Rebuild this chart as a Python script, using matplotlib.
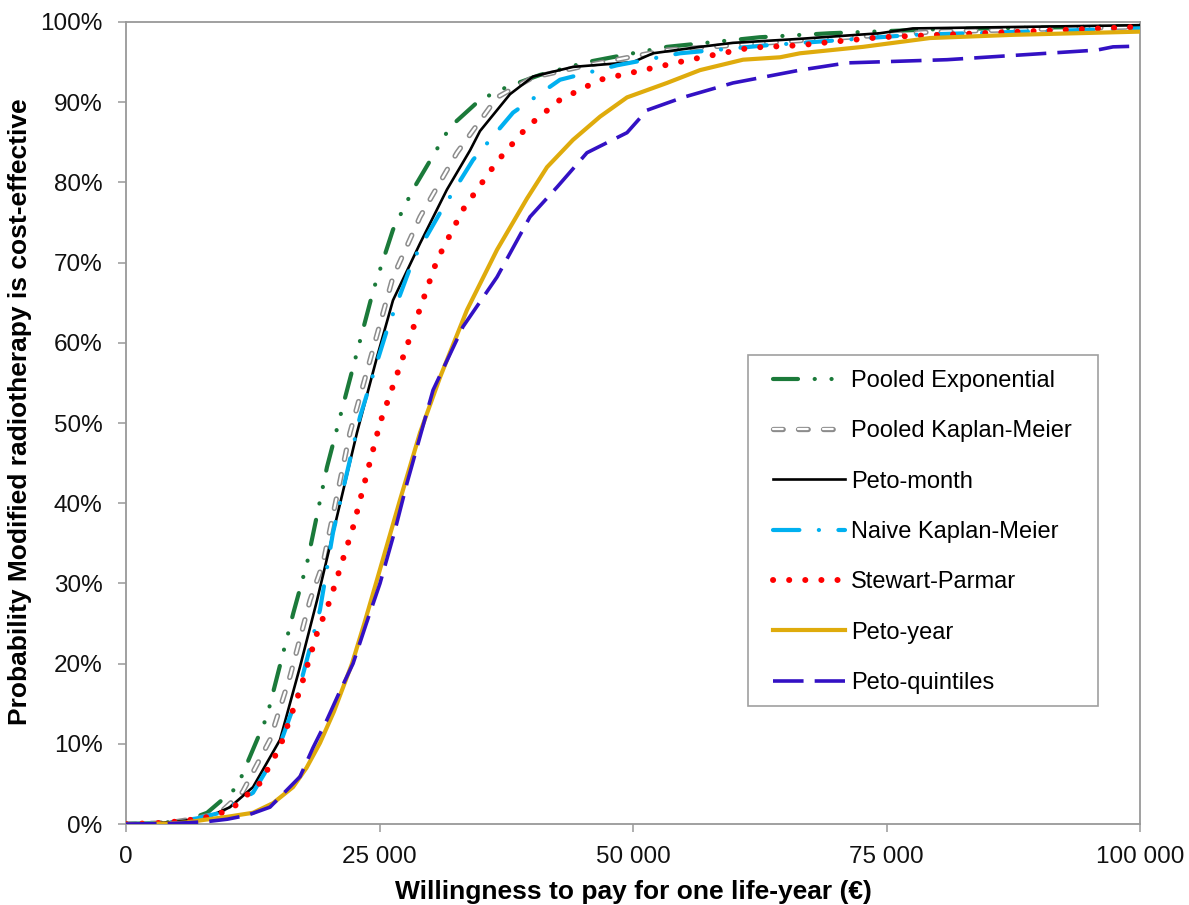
import matplotlib
matplotlib.use("Agg")
import matplotlib.pyplot as plt
from matplotlib.legend_handler import HandlerTuple
from matplotlib.patches import Rectangle
from matplotlib.ticker import FuncFormatter, MultipleLocator

plt.rcParams['font.family'] = ['Liberation Sans', 'DejaVu Sans']
plt.rcParams['lines.scale_dashes'] = False

# willingness to pay (EUR) and probability cost-effective (%) per method
exp_x = [0, 3000, 5000, 6500, 8000, 10950, 13900, 16500, 17850, 19820, 21800, 24400, 26330,
         28300, 31950, 34910, 37570, 40830, 45460, 50000, 53350, 62520, 69430, 80000, 100000]
exp_p = [0, 0.1, 0.3, 0.7, 1.4, 4.6, 13.4, 26.3, 32.5, 44.5, 54.1, 66.6, 74.1,
         79.1, 86.9, 90.3, 91.9, 93.4, 95.0, 96.1, 96.9, 98.1, 98.6, 99.1, 99.5]

pkm_x = [0, 3000, 5000, 7000, 9270, 11500, 14200, 16200, 18150, 19430, 22090, 26330, 29000,
         32640, 36590, 40140, 45460, 53350, 59860, 70000, 80000, 100000]
pkm_p = [0, 0.1, 0.3, 0.7, 1.4, 4.0, 10.5, 18.5, 27.9, 32.5, 48.8, 68.2, 75.7,
         83.7, 90.6, 93.1, 94.6, 96.5, 97.1, 98.0, 98.8, 99.4]

month_x = [0, 3000, 5000, 7000, 8500, 10260, 12525, 15190, 17160, 18840, 20800, 22780, 24750,
           26330, 29000, 31650, 33930, 34910, 37870, 40140, 44080, 50000, 51970, 56610, 59860,
           66470, 74360, 77600, 100000]
month_p = [0, 0.1, 0.3, 0.6, 1.1, 2.1, 4.6, 10.5, 19.6, 27.9, 38.3, 48.8, 58.2,
           65.3, 72.4, 79.1, 84.0, 86.4, 91.0, 93.2, 94.4, 95.0, 96.1, 96.9, 97.4,
           97.9, 98.6, 99.2, 99.6]

nkm_x = [0, 3000, 5000, 7000, 9300, 12525, 14890, 16860, 19130, 20410, 23080, 25740, 28300,
         30970, 34220, 38170, 42800, 48420, 54640, 63210, 67750, 77600, 100000]
nkm_p = [0, 0.1, 0.3, 0.7, 1.4, 3.9, 8.9, 15.8, 26.7, 36.3, 50.8, 61.6, 70.3,
         76.2, 82.8, 88.7, 92.8, 94.6, 96.1, 97.1, 97.5, 98.4, 99.2]

sp_x = [0, 3000, 5000, 7500, 10260, 13220, 15190, 17160, 18840, 20120, 22390, 25050, 28010,
        30670, 33230, 36590, 39550, 42800, 46750, 50990, 55620, 61540, 66470, 69430, 74360,
        84220, 100000]
sp_p = [0, 0.1, 0.3, 0.7, 1.7, 5.1, 9.6, 16.7, 23.8, 27.9, 37.0, 50.0, 60.7,
        70.3, 76.6, 82.6, 86.9, 90.3, 92.8, 94.0, 95.3, 96.8, 97.1, 97.5, 98.1,
        98.6, 99.4]

year_x = [0, 4000, 6000, 7600, 10000, 12525, 14500, 16470, 17800, 19130, 20500, 22290, 23500,
          24650, 27020, 29000, 30970, 33630, 36590, 39550, 41520, 44080, 46750, 49410, 53350,
          56610, 60850, 64500, 66470, 72680, 79290, 87480, 100000]
year_p = [0, 0.05, 0.2, 0.5, 0.9, 1.4, 2.6, 4.6, 7.0, 10.1, 14.0, 20.0, 25.0,
          30.0, 40.4, 48.8, 55.7, 64.1, 71.6, 78.0, 81.9, 85.3, 88.2, 90.6, 92.4,
          94.0, 95.3, 95.6, 96.1, 96.9, 98.0, 98.4, 98.8]

quint_x = [0, 4000, 6000, 8000, 10000, 12000, 14200, 17160, 18440, 19820, 21000, 22390, 23700,
           25050, 26500, 27710, 30280, 33230, 36590, 39840, 42500, 45460, 49410, 51380, 54930,
           59860, 66470, 71100, 80970, 90830, 95760, 97340, 100000]
quint_p = [0, 0.05, 0.15, 0.3, 0.6, 1.1, 2.1, 5.9, 9.5, 13.0, 16.3, 20.0, 25.0,
           30.0, 36.5, 42.5, 54.1, 62.0, 68.2, 75.7, 79.4, 83.7, 86.2, 89.0, 90.6,
           92.4, 94.0, 94.9, 95.3, 96.1, 96.5, 96.9, 97.0]

labels = ['Pooled Exponential', 'Pooled Kaplan-Meier', 'Peto-month', 'Naive Kaplan-Meier',
          'Stewart-Parmar', 'Peto-year', 'Peto-quintiles']

W, H = 1189, 905
fig = plt.figure(figsize=(W / 100, H / 100), dpi=100)
ax = fig.add_axes([126 / W, 81 / H, 1014 / W, 802 / H])

h_exp, = ax.plot(exp_x, exp_p, color='#1b7a3a', lw=3, dashes=(18, 12, 0.1, 12, 0.1, 12),
                 dash_capstyle='round', zorder=3)
# hollow gray dashes: thick gray stroke with a thin white stroke on top
h_pkm_o, = ax.plot(pkm_x, pkm_p, color='#8c8c8c', lw=3.8, dashes=(7, 11),
                   dash_capstyle='round', zorder=4)
h_pkm_i, = ax.plot(pkm_x, pkm_p, color='white', lw=1.6, dashes=(7, 11),
                   dash_capstyle='round', zorder=4.1)
h_month, = ax.plot(month_x, month_p, color='black', lw=1.9, zorder=5)
h_nkm, = ax.plot(nkm_x, nkm_p, color='#00b0f0', lw=3, dashes=(19, 14, 0.1, 14),
                 dash_capstyle='round', zorder=6)
h_sp, = ax.plot(sp_x, sp_p, color='#ff0000', lw=4.3, dashes=(0.1, 11.5),
                dash_capstyle='round', zorder=7)
h_year, = ax.plot(year_x, year_p, color='#dfab0c', lw=3, zorder=8)
h_quint, = ax.plot(quint_x, quint_p, color='#3311c4', lw=2.6, dashes=(22, 8), zorder=9)

ax.set_xlim(0, 100000)
ax.set_ylim(0, 100)
ax.xaxis.set_major_locator(MultipleLocator(25000))
ax.yaxis.set_major_locator(MultipleLocator(10))
ax.xaxis.set_major_formatter(FuncFormatter(lambda v, pos: f"{int(v):,}".replace(',', ' ')))
ax.yaxis.set_major_formatter(FuncFormatter(lambda v, pos: f"{int(v)}%"))

for s in ax.spines.values():
    s.set_color('#999999')
    s.set_linewidth(1.3)
ax.tick_params(axis='both', direction='out', length=5.8, width=1.1, color='#999999',
               labelsize=17.5, labelcolor='#111111')
ax.tick_params(axis='y', pad=11)
ax.tick_params(axis='x', pad=10)

ax.set_xlabel('Willingness to pay for one life-year (\u20ac)', fontsize=19,
              fontweight='bold', labelpad=9)
ax.set_ylabel('Probability Modified radiotherapy is cost-effective', fontsize=19,
              fontweight='bold', labelpad=6, y=0.514)

# legend box drawn separately so the padding can differ by direction
ax.add_patch(Rectangle((748 / W, 1 - 706 / H), 350 / W, 351 / H, transform=fig.transFigure,
                       facecolor='white', edgecolor='#a0a0a0', lw=1.2, zorder=19,
                       clip_on=False))

handles = [h_exp, (h_pkm_o, h_pkm_i), h_month, h_nkm, h_sp, h_year, h_quint]
leg = ax.legend(handles, labels, loc='upper left',
                bbox_to_anchor=(773 / W, 1 - 370 / H), bbox_transform=fig.transFigure,
                frameon=False, fontsize=17, handlelength=3.05, handletextpad=0.25,
                labelspacing=1.2, borderpad=0, borderaxespad=0,
                handler_map={tuple: HandlerTuple(ndivide=1)})
leg.set_zorder(20)

fig.savefig('out.png', dpi=100)
